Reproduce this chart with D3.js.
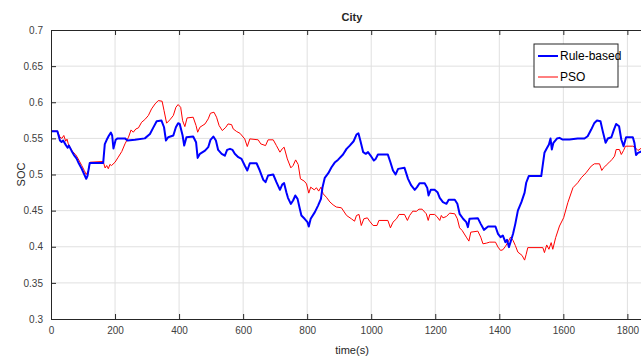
<!DOCTYPE html>
<html>

<head>
    <meta charset="utf-8">
    <title>City SOC</title>
    <style>
        body { margin: 0; background: #fff; }
        text { font-family: "Liberation Sans Narrow", "Liberation Sans", Arial, sans-serif; }
    </style>
</head>

<body>
    <script src="https://d3js.org/d3.v7.min.js"></script>
    <script>
    // Rule-based (blue) SOC trace
    var ruleTime = [0, 20, 28, 33, 38, 46, 52, 56, 64, 73, 80, 85, 96, 104, 110, 114, 121, 163, 168, 174,
        181, 187, 191, 195, 202, 208, 231, 239, 262, 293, 309, 319, 330, 345, 353, 359, 366, 382, 390, 397,
        402, 411, 416, 423, 444, 453, 458, 465, 481, 491, 498, 507, 515, 522, 533, 543, 550, 559, 567, 574,
        585, 595, 605, 613, 621, 642, 652, 663, 670, 678, 694, 704, 715, 722, 728, 735, 740, 749, 756, 763,
        770, 777, 782, 792, 801, 805, 811, 824, 834, 843, 848, 855, 866, 876, 886, 896, 912, 923, 933, 945,
        954, 960, 966, 975, 983, 990, 998, 1008, 1014, 1021, 1052, 1060, 1068, 1076, 1084, 1104, 1115, 1125, 1136, 1143,
        1151, 1167, 1175, 1179, 1186, 1198, 1207, 1214, 1224, 1235, 1242, 1261, 1269, 1276, 1287, 1297, 1302, 1307, 1333, 1342,
        1352, 1365, 1388, 1396, 1404, 1411, 1419, 1424, 1430, 1435, 1443, 1450, 1458, 1469, 1479, 1484, 1492, 1531, 1536, 1541,
        1548, 1555, 1560, 1564, 1569, 1580, 1588, 1598, 1619, 1645, 1666, 1676, 1687, 1697, 1705, 1716, 1723, 1732, 1739, 1750,
        1758, 1765, 1774, 1781, 1788, 1796, 1817, 1822, 1827, 1833, 1845];
    var ruleSoc = [0.560, 0.560, 0.547, 0.545, 0.547, 0.541, 0.537, 0.540, 0.533, 0.526, 0.522, 0.517, 0.508, 0.500, 0.494, 0.498, 0.516, 0.516, 0.542, 0.548,
        0.554, 0.558, 0.554, 0.536, 0.548, 0.550, 0.550, 0.547, 0.548, 0.550, 0.556, 0.5645, 0.5737, 0.5746, 0.5654, 0.547, 0.5516, 0.554, 0.5654, 0.571,
        0.570, 0.554, 0.540, 0.5516, 0.5525, 0.5447, 0.523, 0.5286, 0.533, 0.5378, 0.5479, 0.5525, 0.547, 0.534, 0.5286, 0.526, 0.534, 0.5355, 0.534, 0.5286,
        0.524, 0.5216, 0.5124, 0.5055, 0.5156, 0.5156, 0.5055, 0.4926, 0.4894, 0.4986, 0.500, 0.4894, 0.4788, 0.486, 0.488, 0.4755, 0.4677, 0.4594, 0.464, 0.4709,
        0.4663, 0.4525, 0.4433, 0.4387, 0.434, 0.428, 0.4387, 0.4479, 0.457, 0.4663, 0.4825, 0.4954, 0.5018, 0.510, 0.5165, 0.5202, 0.5276, 0.5355, 0.540, 0.546,
        0.5553, 0.5571, 0.547, 0.5309, 0.5286, 0.5309, 0.5262, 0.5193, 0.5216, 0.5276, 0.5276, 0.517, 0.5055, 0.500, 0.5078, 0.5092, 0.494, 0.4848, 0.4788, 0.4825,
        0.488, 0.488, 0.4815, 0.471, 0.4788, 0.4788, 0.4755, 0.4677, 0.4617, 0.4594, 0.465, 0.465, 0.4594, 0.4456, 0.4387, 0.434, 0.4271, 0.4387, 0.4396, 0.4317,
        0.4234, 0.428, 0.428, 0.4179, 0.4133, 0.4156, 0.4064, 0.4096, 0.3995, 0.4064, 0.4179, 0.4317, 0.450, 0.4617, 0.4750, 0.4886, 0.4978, 0.4978, 0.5139, 0.530,
        0.536, 0.5415, 0.5498, 0.5346, 0.5438, 0.5498, 0.5507, 0.5484, 0.5484, 0.5498, 0.5498, 0.553, 0.5622, 0.5714, 0.5747, 0.5738, 0.560, 0.5438, 0.5498, 0.5516,
        0.5622, 0.570, 0.5668, 0.5484, 0.5392, 0.5516, 0.5516, 0.5438, 0.527, 0.5300, 0.5320];

    // PSO (red) SOC trace
    var psoTime = [0, 20, 28, 34, 40, 46, 50, 54, 59, 67, 77, 85, 96, 104, 110, 117, 122, 163, 169, 174,
        179, 184, 189, 200, 210, 221, 231, 242, 250, 257, 265, 273, 283, 293, 304, 314, 325, 335, 347, 353,
        361, 371, 382, 390, 397, 405, 411, 418, 425, 444, 453, 458, 465, 481, 491, 498, 509, 517, 525, 535,
        546, 553, 564, 569, 580, 590, 605, 613, 621, 647, 655, 670, 678, 694, 704, 715, 722, 728, 738, 749,
        756, 764, 772, 779, 791, 798, 805, 811, 822, 829, 836, 843, 850, 860, 871, 881, 891, 907, 923, 938,
        948, 954, 962, 969, 977, 988, 995, 1006, 1018, 1024, 1052, 1060, 1068, 1079, 1087, 1104, 1113, 1120, 1130, 1141,
        1149, 1159, 1167, 1172, 1178, 1183, 1198, 1205, 1214, 1219, 1224, 1235, 1245, 1261, 1269, 1276, 1284, 1297, 1305, 1311,
        1333, 1342, 1349, 1360, 1370, 1388, 1396, 1404, 1411, 1419, 1427, 1435, 1443, 1450, 1458, 1471, 1479, 1484, 1489, 1536,
        1541, 1548, 1555, 1562, 1567, 1576, 1588, 1601, 1614, 1630, 1645, 1656, 1671, 1687, 1697, 1713, 1720, 1726, 1734, 1742,
        1752, 1760, 1765, 1775, 1781, 1788, 1794, 1817, 1825, 1833, 1845];
    var psoSoc = [0.560, 0.560, 0.5516, 0.550, 0.554, 0.546, 0.549, 0.5424, 0.5378, 0.532, 0.5276, 0.5216, 0.5124, 0.5055, 0.500, 0.5055, 0.517, 0.518, 0.509, 0.5124,
        0.508, 0.514, 0.5124, 0.517, 0.524, 0.5318, 0.5424, 0.5516, 0.5617, 0.5585, 0.563, 0.5645, 0.5723, 0.576, 0.5816, 0.5908, 0.5977, 0.6023, 0.6014, 0.5885,
        0.571, 0.5756, 0.5816, 0.593, 0.5968, 0.593, 0.5746, 0.5663, 0.5783, 0.5793, 0.5677, 0.5585, 0.5654, 0.570, 0.577, 0.5848, 0.5862, 0.5793, 0.5677, 0.5608,
        0.5654, 0.570, 0.569, 0.5631, 0.5594, 0.5571, 0.5493, 0.5387, 0.5493, 0.548, 0.5424, 0.540, 0.548, 0.548, 0.540, 0.5309, 0.5355, 0.5378, 0.5216, 0.5092,
        0.5124, 0.5202, 0.5138, 0.494, 0.4908, 0.487, 0.4742, 0.4825, 0.4788, 0.4816, 0.477, 0.4825, 0.4733, 0.4685, 0.462, 0.458, 0.455, 0.4539, 0.4433, 0.4387,
        0.4354, 0.4433, 0.4447, 0.4294, 0.4387, 0.440, 0.4354, 0.4294, 0.4294, 0.4364, 0.4364, 0.4262, 0.434, 0.4387, 0.4447, 0.4447, 0.4364, 0.4433, 0.4493, 0.449,
        0.452, 0.452, 0.448, 0.4456, 0.4364, 0.4447, 0.4447, 0.4419, 0.4364, 0.4433, 0.440, 0.4419, 0.4465, 0.4456, 0.4387, 0.4262, 0.4225, 0.4133, 0.4078, 0.4202,
        0.4216, 0.4133, 0.4041, 0.405, 0.4064, 0.4064, 0.3995, 0.3949, 0.3958, 0.4004, 0.4064, 0.4133, 0.4087, 0.4018, 0.3926, 0.388, 0.3815, 0.3896, 0.3988, 0.3988,
        0.3919, 0.4025, 0.3965, 0.4057, 0.3965, 0.4126, 0.4287, 0.4402, 0.461, 0.4817, 0.4886, 0.4955, 0.5024, 0.5116, 0.5148, 0.5148, 0.5056, 0.5093, 0.513, 0.5162,
        0.5208, 0.5254, 0.5346, 0.5346, 0.5277, 0.5332, 0.5392, 0.5392, 0.5369, 0.5332, 0.5369];

    var xTicks = [0, 200, 400, 600, 800, 1000, 1200, 1400, 1600, 1800];
    var yTicks = [0.3, 0.35, 0.4, 0.45, 0.5, 0.55, 0.6, 0.65, 0.7];
    var seriesNames = ["Rule-based", "PSO"];

    function drawChart() {
        const width = 641;
        const height = 358;
        const margin = { left: 51, top: 30, right: -12, bottom: 39 };

        var x = d3.scaleLinear()
            .domain([0, 1880])
            .range([margin.left, width - margin.right]);
        var y = d3.scaleLinear()
            .domain([0.3, 0.7])
            .range([height - margin.bottom, margin.top]);

        var svg = d3.select("body")
            .append("svg")
            .attr("width", width)
            .attr("height", height);

        // grid
        svg.append("g")
            .selectAll("line")
            .data(xTicks.slice(1))
            .enter()
            .append("line")
            .attr("x1", function(d) { return x(d); })
            .attr("x2", function(d) { return x(d); })
            .attr("y1", y(0.3))
            .attr("y2", y(0.7))
            .attr("stroke", "#e0e0e0")
            .attr("stroke-width", 1);
        svg.append("g")
            .selectAll("line")
            .data(yTicks.slice(1, -1))
            .enter()
            .append("line")
            .attr("x1", x(0))
            .attr("x2", x(1880))
            .attr("y1", function(d) { return y(d); })
            .attr("y2", function(d) { return y(d); })
            .attr("stroke", "#e0e0e0")
            .attr("stroke-width", 1);

        svg.append("clipPath")
            .attr("id", "plotclip")
            .append("rect")
            .attr("x", x(0))
            .attr("y", y(0.7))
            .attr("width", x(1880) - x(0))
            .attr("height", y(0.3) - y(0.7));

        var line = d3.line()
            .x(function(d) { return x(d[0]); })
            .y(function(d) { return y(d[1]); });

        svg.append("path")
            .datum(d3.zip(psoTime, psoSoc))
            .attr("clip-path", "url(#plotclip)")
            .attr("fill", "none")
            .attr("stroke", "#ff0000")
            .attr("stroke-width", 1)
            .attr("stroke-linejoin", "round")
            .attr("d", line);

        svg.append("path")
            .datum(d3.zip(ruleTime, ruleSoc))
            .attr("clip-path", "url(#plotclip)")
            .attr("fill", "none")
            .attr("stroke", "#0000ff")
            .attr("stroke-width", 2)
            .attr("stroke-linejoin", "round")
            .attr("d", line);

        // axes, ticks point inwards like matlab
        var axBottom = svg.append("g")
            .attr("transform", "translate(0," + y(0.3) + ")")
            .call(d3.axisBottom(x).tickValues(xTicks).tickSizeInner(-5).tickSizeOuter(0).tickPadding(8)
                .tickFormat(d3.format("d")));
        var axTop = svg.append("g")
            .attr("transform", "translate(0," + y(0.7) + ")")
            .call(d3.axisTop(x).tickValues(xTicks.slice(1)).tickSizeInner(-5).tickSizeOuter(0).tickFormat(""));
        var axLeft = svg.append("g")
            .attr("transform", "translate(" + x(0) + ",0)")
            .call(d3.axisLeft(y).tickValues(yTicks).tickSizeInner(-5).tickSizeOuter(0).tickPadding(8)
                .tickFormat(function(d) { return String(+d.toFixed(2)); }));

        [axBottom, axTop, axLeft].forEach(function(a) {
            a.select(".domain").attr("stroke", "#262626");
            a.selectAll(".tick line").attr("stroke", "#262626");
            a.selectAll("text").attr("fill", "#404040").style("font-size", "10px");
        });

        svg.append("text")
            .attr("x", (x(0) + x(1880)) / 2)
            .attr("y", 21)
            .attr("text-anchor", "middle")
            .style("font-size", "11px")
            .style("font-weight", "bold")
            .attr("fill", "#262626")
            .text("City");

        svg.append("text")
            .attr("x", (x(0) + x(1880)) / 2)
            .attr("y", 354)
            .attr("text-anchor", "middle")
            .style("font-size", "11px")
            .attr("fill", "#262626")
            .text("time(s)");

        svg.append("text")
            .attr("transform", "translate(25," + y(0.5) + ") rotate(-90)")
            .attr("text-anchor", "middle")
            .style("font-size", "11px")
            .attr("fill", "#262626")
            .text("SOC");

        // legend
        var lg = svg.append("g").attr("transform", "translate(534,44)");
        lg.append("rect")
            .attr("width", 84)
            .attr("height", 43)
            .attr("fill", "#fff")
            .attr("stroke", "#262626")
            .attr("stroke-width", 1);
        var colors = ["#0000ff", "#ff0000"];
        var widths = [2, 1];
        var item = lg.selectAll("g.item")
            .data(seriesNames)
            .enter()
            .append("g")
            .attr("transform", function(d, i) { return "translate(0," + (12 + i * 21) + ")"; });
        item.append("line")
            .attr("x1", 4)
            .attr("x2", 24)
            .attr("stroke", function(d, i) { return colors[i]; })
            .attr("stroke-width", function(d, i) { return widths[i]; });
        item.append("text")
            .attr("x", 26)
            .attr("dy", "0.35em")
            .style("font-size", "12px")
            .attr("fill", "#000")
            .text(function(d) { return d; });
    }
    drawChart();
    </script>
</body>

</html>
